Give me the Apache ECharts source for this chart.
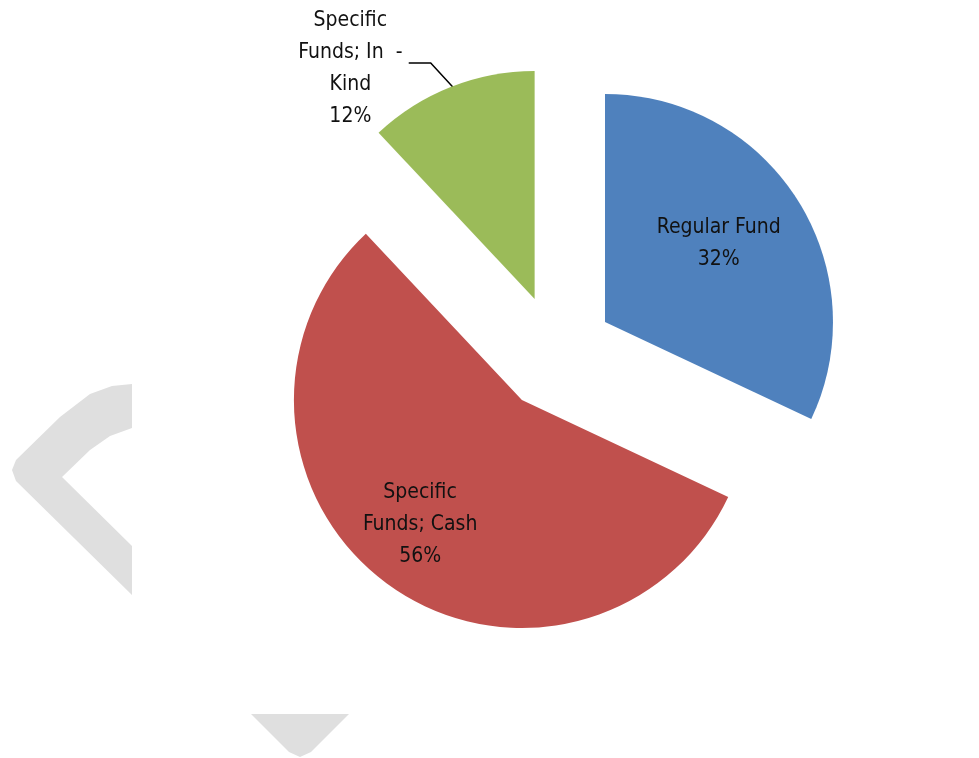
<!DOCTYPE html>
<html>
<head>
<meta charset="utf-8">
<script src="https://cdn.jsdelivr.net/npm/echarts@6/dist/echarts.min.js"></script>
<style>html,body{margin:0;padding:0;background:#fff;}#c{width:979px;height:758px;}</style>
</head>
<body>
<div id="c"></div>
<script>
var categories = ['Regular Fund', 'Specific Funds; Cash', 'Specific Funds; In Kind'];
var values = [32, 56, 12];
var labelTexts = ['Regular Fund\n32%', 'Specific\nFunds; Cash\n56%', 'Specific\nFunds; In  -\nKind\n12%'];
var colors = ['#4F81BD', '#C0504D', '#9BBB59'];

var FONT = '"Liberation Sans Narrow", "DejaVu Sans Condensed", "Noto Sans", sans-serif';
var chart = echarts.init(document.getElementById('c'), null, {renderer: 'canvas'});

var data = categories.map(function (c, i) {
  var item = {
    name: c,
    value: values[i],
    selected: true,
    itemStyle: {color: colors[i]},
    label: {formatter: labelTexts[i]}
  };
  if (i === 2) {
    item.label.position = 'outside';
    item.label.padding = [18, 136, 0, 0];
    item.labelLine = {show: true, length: 20, length2: 20, lineStyle: {color: '#000', width: 1.5}};
  }
  return item;
});

var option = {
  backgroundColor: '#fff',
  animation: false,
  graphic: [
    {type: 'polygon', silent: true, shape: {points: [[132,384],[112,386],[90,394],[60,417],[16,460],[12,470],[16,481],[132,595],[132,546],[62,477],[90,450],[110,436],[132,428]]}, style: {fill: '#DFDFDF'}},
    {type: 'polygon', silent: true, shape: {points: [[251,714],[349,714],[311,752],[300,757],[289,752]]}, style: {fill: '#DFDFDF'}}
  ],
  series: [{
    type: 'pie',
    center: [556, 353],
    radius: [0, 228],
    startAngle: 90,
    clockwise: true,
    selectedMode: 'multiple',
    selectedOffset: 58,
    avoidLabelOverlap: false,
    emphasis: {disabled: true},
    silent: true,
    label: {
      show: true,
      position: 'inside',
      color: '#111',
      fontFamily: FONT,
      fontSize: 21,
      lineHeight: 32,
      align: 'center'
    },
    labelLine: {show: false},
    labelLayout: function (p) {
      if (p.dataIndex === 0) return {dx: 15, dy: -16};
      if (p.dataIndex === 1) return {dx: -33, dy: 30};
      if (p.dataIndex === 2 && p.labelLinePoints) {
        var p0 = p.labelLinePoints[0];
        return {
          align: 'center',
          verticalAlign: 'middle',
          labelLinePoints: [[p0[0] + 3, p0[1] + 1], [p0[0] - 20, p0[1] - 24], [p0[0] - 42, p0[1] - 24]]
        };
      }
      return {};
    },
    data: data
  }]
};
chart.setOption(option);
</script>
</body>
</html>
